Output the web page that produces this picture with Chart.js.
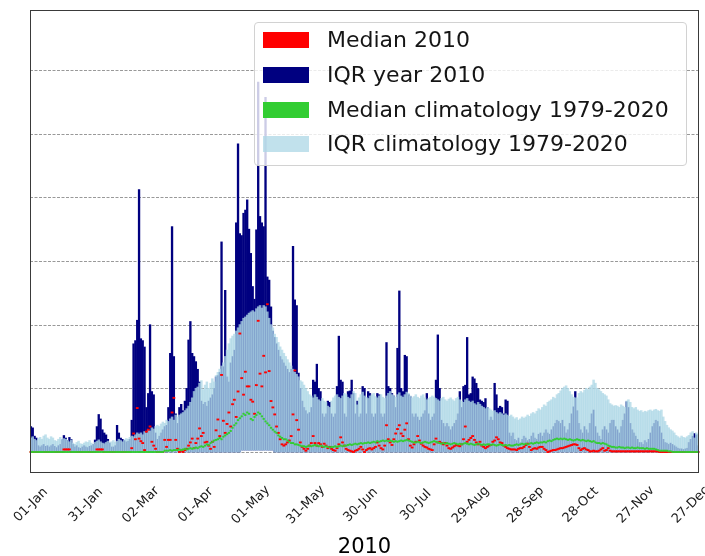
<!DOCTYPE html>
<html>
<head>
<meta charset="utf-8">
<script src="https://cdn.jsdelivr.net/npm/chart.js@4.4.1/dist/chart.umd.min.js"></script>
<style>
  html, body { margin: 0; padding: 0; background: #fff; }
  #wrap { position: relative; width: 705px; height: 556px; overflow: hidden; font-family: "DejaVu Sans", sans-serif; }
  #chart { position: absolute; left: 0; top: 0; }
  .legend-box { position: absolute; left: 254px; top: 22px; width: 433px; height: 144px; box-sizing: border-box;
    background: rgba(255,255,255,0.8); border: 1px solid #d2d2d2; border-radius: 4px; }
  .swatch { position: absolute; left: 263px; width: 46px; height: 16px; }
  .label { position: absolute; left: 327px; font-size: 22px; line-height: 22px; color: #151515; white-space: nowrap; }
</style>
</head>
<body>
<div id="wrap">
  <canvas id="chart" width="705" height="556"></canvas>
</div>
<script>
// Daily values for 2010, one entry per day of year (01-Jan = index 0).
// Units follow the y grid (one dashed line per unit).

const TICK_DAYS = [0, 30, 60, 90, 120, 150, 180, 210, 240, 270, 300, 330, 360];
const TICK_LABELS = ["01-Jan", "31-Jan", "02-Mar", "01-Apr", "01-May", "31-May",
  "30-Jun", "30-Jul", "29-Aug", "28-Sep", "28-Oct", "27-Nov", "27-Dec"];
const X_TITLE = "2010";
const GRID_VALUES = [0, 1, 2, 3, 4, 5, 6];
const Y_MIN = -0.33;
const Y_MAX = 6.94;

const LEGEND_LABELS = ["Median 2010", "IQR year 2010", "Median climatology 1979-2020", "IQR climatology 1979-2020"];

// upper quartile, year 2010
const IQR2010_HIGH = [
  0.4,0.38,0.25,0.22,0.1,0.08,0.1,0.12,0.09,0.1,
  0.08,0.1,0.12,0.09,0.07,0.1,0.12,0.19,0.26,0.22,
  0.18,0.23,0.2,0.12,0.08,0.1,0.07,0.06,0.08,0.1,
  0.08,0.07,0.09,0.1,0.12,0.19,0.4,0.59,0.52,0.35,
  0.3,0.27,0.2,0.14,0.08,0.08,0.1,0.42,0.3,0.22,
  0.2,0.18,0.16,0.17,0.2,0.5,1.7,1.75,2.07,4.12,
  1.78,1.75,1.65,0.7,0.92,2.0,0.95,0.9,0.3,0.2,
  0.25,0.3,0.35,0.4,0.42,0.7,1.55,3.54,1.5,0.6,
  0.45,0.7,0.75,0.65,0.8,1.0,1.76,2.05,1.55,1.5,
  1.42,1.3,1.1,0.8,0.75,0.78,0.72,0.8,0.85,0.9,
  1.0,1.18,1.2,1.25,3.3,1.34,2.54,1.18,1.1,1.4,
  1.5,1.6,3.6,4.84,3.43,3.4,3.75,3.8,3.96,3.5,
  3.12,2.6,2.4,3.49,5.81,3.7,3.6,3.54,5.57,2.75,
  2.7,2.28,1.9,1.8,1.7,1.6,1.5,1.45,1.4,1.35,
  1.3,1.25,1.3,3.23,2.39,2.3,1.24,1.0,0.8,0.7,
  0.65,0.6,0.62,0.7,1.13,1.1,1.38,1.0,0.95,0.6,
  0.55,0.6,0.8,0.78,0.6,0.55,0.6,1.03,1.82,1.13,
  1.1,0.6,0.55,0.95,0.96,1.13,0.92,0.6,0.8,0.55,
  0.6,1.03,1.0,0.6,0.95,0.92,0.6,0.55,0.6,0.92,
  0.9,0.6,0.55,0.6,1.72,1.03,1.0,0.92,0.88,0.7,
  1.63,2.53,1.0,0.95,1.52,1.5,0.9,0.87,0.6,0.55,
  0.6,0.55,0.5,0.55,0.6,0.65,0.92,0.6,0.5,0.55,
  0.6,1.13,1.84,1.0,0.5,0.45,0.4,0.45,0.4,0.35,
  0.4,0.45,0.5,0.6,0.95,0.7,1.03,1.05,1.8,0.9,
  0.92,1.18,1.15,1.08,1.0,0.82,0.8,0.78,0.84,0.7,
  0.5,0.55,0.5,1.08,0.9,0.69,0.72,0.7,0.6,0.82,
  0.8,0.3,0.25,0.3,0.2,0.18,0.22,0.15,0.2,0.25,
  0.22,0.18,0.2,0.25,0.3,0.22,0.2,0.28,0.3,0.25,
  0.3,0.35,0.3,0.28,0.35,0.4,0.45,0.5,0.48,0.45,
  0.5,0.4,0.3,0.35,0.45,0.6,0.71,0.95,0.65,0.45,
  0.35,0.3,0.4,0.35,0.3,0.45,0.6,0.66,0.4,0.3,
  0.25,0.2,0.35,0.4,0.35,0.3,0.45,0.5,0.5,0.4,
  0.35,0.3,0.4,0.5,0.6,0.79,0.7,0.45,0.35,0.3,
  0.25,0.2,0.15,0.15,0.12,0.18,0.15,0.2,0.3,0.4,
  0.45,0.5,0.48,0.4,0.3,0.2,0.15,0.14,0.12,0.14,
  0.12,0.1,0.08,0.06,0.05,0.05,0.04,0.05,0.06,0.15,
  0.2,0.25,0.29,0.27,0.1,
];

// lower quartile, year 2010
const IQR2010_LOW = [
  0,0,0,0,0,0,0,0,0,0, 0,0,0,0,0,0,0,0,0,0, 0,0,0,0,0,0,0,0,0,0,
  0,0,0,0,0,0,0,0,0,0, 0,0,0,0,0,0,0,0,0,0, 0,0,0,0,0,0,0,0,0,0,
  0,0,0,0,0,0,0,0,0,0, 0,0,0,0,0,0,0,0,0,0, 0,0,0,0,0,0,0,0,0,0,
  0,0,0,0,0,0,0,0,0,0, 0,0,0,0,0,0,0,0,0,0,
  0,0,0,0,0,0.03,0.03,0.03,0.03,0.03,
  0.03,0.03,0.03,0.03,0.03,0.03,0.03,0.03,0.03,0.03,
  0.03,0.03,0.03,0,0,0,0,0,0,0,
  0,0,0,0,0,0,0,0,0,0, 0,0,0,0,0,0,0,0,0,0, 0,0,0,0,0,0,0,0,0,0,
  0,0,0,0,0,0,0,0,0,0, 0,0,0,0,0,0,0,0,0,0, 0,0,0,0,0,0,0,0,0,0,
  0,0,0,0,0,0,0,0,0,0, 0,0,0,0,0,0,0,0,0,0, 0,0,0,0,0,0,0,0,0,0,
  0,0,0,0,0,0,0,0,0,0, 0,0,0,0,0,0,0,0,0,0, 0,0,0,0,0,0,0,0,0,0,
  0,0,0,0,0,0,0,0,0,0, 0,0,0,0,0,0,0,0,0,0, 0,0,0,0,0,0,0,0,0,0,
  0,0,0,0,0,0,0,0,0,0, 0,0,0,0,0,0,0,0,0,0, 0,0,0,0,0,0,0,0,0,0,
  0,0,0,0,0,0,0,0,0,0, 0,0,0,0,0,0,0,0,0,0, 0,0,0,0,0,0,0,0,0,0,
  0,0,0,0,0,0,0,0,0,0, 0,0,0,0,0,
];

// upper quartile, climatology 1979-2020
const IQRCLIM_HIGH = [
  0.22,0.24,0.2,0.18,0.21,0.23,0.2,0.25,0.27,0.22,
  0.2,0.24,0.22,0.18,0.17,0.2,0.23,0.19,0.21,0.2,
  0.18,0.16,0.19,0.14,0.12,0.15,0.17,0.13,0.12,0.14,
  0.16,0.15,0.18,0.14,0.12,0.15,0.17,0.19,0.16,0.14,
  0.13,0.15,0.17,0.14,0.16,0.18,0.15,0.17,0.2,0.18,
  0.16,0.19,0.21,0.2,0.23,0.25,0.24,0.27,0.3,0.28,
  0.3,0.27,0.32,0.3,0.35,0.33,0.38,0.36,0.4,0.42,
  0.4,0.44,0.47,0.45,0.5,0.48,0.52,0.55,0.5,0.58,
  0.55,0.58,0.6,0.62,0.65,0.68,0.72,0.78,0.85,0.95,
  1.0,1.02,1.08,1.12,0.98,1.05,1.1,1.0,1.08,1.15,
  1.1,1.2,1.25,1.3,1.35,1.4,1.5,1.6,1.7,1.78,
  1.82,1.85,1.9,1.95,2.0,2.05,2.1,2.12,2.15,2.18,
  2.2,2.22,2.2,2.25,2.28,2.3,2.26,2.3,2.28,2.2,
  2.1,2.0,1.95,1.85,1.8,1.72,1.65,1.6,1.55,1.5,
  1.45,1.4,1.35,1.3,1.25,1.22,1.18,1.12,1.1,1.05,
  1.0,0.95,0.9,0.88,0.85,0.9,0.86,0.82,0.8,0.84,
  0.8,0.78,0.72,0.7,0.8,0.85,0.88,0.9,0.86,0.84,
  0.88,0.92,0.9,0.86,0.84,0.9,0.95,0.92,0.74,0.85,
  0.9,0.94,0.88,0.86,0.84,0.88,0.9,0.92,0.87,0.85,
  0.88,0.9,0.86,0.84,0.88,0.92,0.95,0.9,0.88,0.86,
  0.9,0.93,0.88,0.86,0.9,0.94,0.92,0.88,0.85,0.87,
  0.9,0.86,0.84,0.88,0.9,0.85,0.82,0.84,0.86,0.88,
  0.86,0.84,0.82,0.8,0.84,0.86,0.82,0.8,0.83,0.85,
  0.82,0.8,0.84,0.86,0.82,0.8,0.78,0.82,0.84,0.8,
  0.78,0.8,0.76,0.74,0.78,0.75,0.72,0.7,0.68,0.7,
  0.68,0.66,0.64,0.65,0.62,0.6,0.62,0.6,0.58,0.6,
  0.58,0.56,0.58,0.55,0.52,0.54,0.5,0.52,0.55,0.53,
  0.55,0.58,0.56,0.6,0.62,0.6,0.64,0.68,0.66,0.7,
  0.74,0.72,0.78,0.8,0.82,0.86,0.84,0.9,0.92,0.96,
  1.0,1.02,1.04,1.0,0.95,0.9,0.86,0.85,0.85,0.92,
  0.95,0.93,0.97,1.0,0.98,1.02,1.05,1.13,1.08,1.0,
  0.98,0.95,0.92,0.9,0.88,0.82,0.76,0.74,0.72,0.73,
  0.72,0.7,0.74,0.72,0.7,0.8,0.82,0.78,0.7,0.68,
  0.7,0.66,0.64,0.65,0.62,0.64,0.63,0.65,0.66,0.64,
  0.66,0.67,0.65,0.64,0.66,0.55,0.48,0.42,0.38,0.35,
  0.33,0.3,0.26,0.24,0.22,0.25,0.23,0.22,0.24,0.26,
  0.3,0.32,0.22,0.3,0.28,
];

// lower quartile, climatology 1979-2020
const IQRCLIM_LOW = IQR2010_LOW.slice();

// median, year 2010
const MEDIAN_2010 = [
  0,0,0,0,0,0,0,0,0,0,
  0,0,0,0,0,0,0,0,0.04,0.04,
  0.04,0.04,0,0,0,0,0,0,0,0,
  0,0,0,0,0,0,0.04,0.04,0.04,0.04,
  0,0,0,0,0,0,0,0,0,0,
  0,0,0,0,0,0.06,0.29,0.2,0.69,0.21,
  0.17,0.14,0.03,0.32,0.35,0.4,0.16,0.1,0.05,0,
  0,0,0,0.19,0.08,0.19,0.19,0.62,0.85,0.19,
  0.05,0,0.02,0,0.03,0.05,0.1,0.15,0.21,0.06,
  0.14,0.21,0.37,0.25,0.3,0.15,0.16,0.1,0.05,0.16,
  0.08,0.34,0.51,0.25,1.21,0.49,0.3,0.44,0.62,0.4,
  0.75,0.82,0.55,0.95,1.86,1.16,0.9,1.26,1.03,1.03,
  0.82,0.79,0.6,1.05,2.06,1.23,1.03,1.51,1.25,2.32,
  1.27,0.8,0.7,0.59,0.4,0.3,0.2,0.12,0.1,0.12,
  0.15,0.18,0.25,0.59,1.28,0.5,0.35,0.15,0.08,0.05,
  0.02,0.05,0.1,0.14,0.25,0.14,0.1,0.14,0.12,0.08,
  0.13,0.1,0.06,0.08,0.05,0.03,0.02,0.06,0.12,0.23,
  0.15,0.1,0.05,0.03,0.02,0.01,0,0.02,0.03,0.05,
  0.08,0.04,0,0.03,0.05,0.06,0.04,0.06,0.08,0.15,
  0.1,0.06,0.04,0.1,0.42,0.2,0.15,0.11,0.2,0.29,
  0.36,0.42,0.29,0.25,0.35,0.45,0.2,0.1,0.07,0.12,
  0.16,0.25,0.18,0.13,0.1,0.08,0.07,0.05,0.04,0.03,
  0.12,0.21,0.15,0.16,0.14,0.12,0.14,0.1,0.06,0.05,
  0.07,0.09,0.11,0.1,0.09,0.12,0.2,0.4,0.16,0.19,
  0.22,0.25,0.19,0.15,0.12,0.16,0.1,0.08,0.06,0.08,
  0.1,0.11,0.16,0.18,0.23,0.2,0.15,0.14,0.1,0.08,
  0.06,0.05,0.04,0.04,0.04,0.03,0.05,0.06,0.06,0.08,
  0.11,0.13,0.08,0.03,0.05,0.06,0.05,0.07,0.08,0.08,
  0.05,0.03,0,0.01,0.02,0.03,0.03,0.04,0.05,0.06,
  0.06,0.07,0.08,0.09,0.1,0.11,0.12,0.12,0.11,0.06,
  0.03,0.05,0.06,0.04,0.03,0.01,0.01,0.02,0.01,0.01,
  0.02,0.04,0.06,0.02,0.03,0.06,0.02,0.01,0.01,0.01,
  0.01,0.01,0.01,0.01,0.01,0.01,0.01,0.01,0.01,0.01,
  0.01,0.01,0.01,0.01,0.01,0.01,0.01,0.01,0.01,0.01,
  0.01,0.01,0.01,0,0,0,0,0,0,0,
  0,0,0,0,0,0,0,0,0,0,
  0,0,0,0,0,
];

// median, climatology 1979-2020
const MEDIAN_CLIM = [
  0,0,0,0,0,0,0,0,0,0, 0,0,0,0,0,0,0,0,0,0, 0,0,0,0,0,0,0,0,0,0,
  0,0,0,0,0,0,0,0,0,0, 0,0,0,0,0,0,0,0,0,0, 0,0,0,0,0,0,0,0,0,0,
  0,0,0,0,0,0,0,0,0,0,
  0,0,0,0.02,0.02,0.02,0.03,0.02,0.03,0.03,
  0.03,0.04,0.03,0.04,0.05,0.04,0.05,0.06,0.05,0.06,
  0.07,0.06,0.08,0.09,0.08,0.1,0.12,0.11,0.14,0.16,
  0.18,0.19,0.2,0.22,0.2,0.24,0.26,0.28,0.3,0.33,
  0.38,0.42,0.45,0.5,0.53,0.56,0.6,0.58,0.62,0.6,
  0.52,0.5,0.55,0.58,0.62,0.6,0.56,0.52,0.48,0.45,
  0.42,0.38,0.35,0.32,0.3,0.26,0.24,0.22,0.2,0.2,
  0.18,0.16,0.14,0.14,0.12,0.12,0.11,0.1,0.09,0.09,
  0.08,0.09,0.1,0.09,0.1,0.11,0.1,0.09,0.1,0.09,
  0.08,0.09,0.08,0.07,0.08,0.08,0.09,0.08,0.09,0.1,
  0.09,0.1,0.1,0.11,0.12,0.11,0.12,0.13,0.12,0.13,
  0.14,0.13,0.14,0.14,0.15,0.14,0.15,0.16,0.15,0.17,
  0.16,0.17,0.18,0.17,0.18,0.17,0.18,0.17,0.16,0.17,
  0.16,0.17,0.18,0.17,0.18,0.19,0.18,0.17,0.16,0.15,
  0.15,0.16,0.15,0.14,0.15,0.16,0.15,0.14,0.15,0.16,
  0.17,0.16,0.15,0.14,0.13,0.14,0.13,0.14,0.13,0.12,
  0.13,0.14,0.13,0.12,0.13,0.12,0.13,0.14,0.13,0.12,
  0.13,0.12,0.11,0.12,0.13,0.12,0.11,0.12,0.11,0.12,
  0.12,0.11,0.12,0.11,0.1,0.11,0.12,0.11,0.1,0.11,
  0.1,0.11,0.1,0.1,0.11,0.12,0.11,0.12,0.13,0.12,
  0.13,0.12,0.13,0.14,0.13,0.14,0.15,0.14,0.15,0.15,
  0.16,0.15,0.17,0.18,0.17,0.19,0.2,0.21,0.2,0.21,
  0.2,0.21,0.2,0.19,0.2,0.19,0.18,0.19,0.2,0.19,
  0.18,0.19,0.18,0.17,0.18,0.17,0.16,0.17,0.15,0.14,
  0.14,0.13,0.14,0.13,0.12,0.1,0.09,0.08,0.08,0.07,
  0.07,0.08,0.07,0.07,0.06,0.07,0.07,0.06,0.07,0.06,
  0.06,0.07,0.06,0.06,0.06,0.05,0.06,0.05,0.05,0.05,
  0.05,0.04,0.03,0.02,0.02,0.02,0.02,0.02,0.01,0.01,
  0,0,0,0,0,0,0,0,0,0,
  0,0,0,0,0,
];

const DAYS = Array.from({ length: 365 }, (_, i) => i);

const NAVY = "#000080";
const LIGHTBLUE = "rgba(173,216,230,0.76)";
const RED = "#ff0000";
const GREEN = "#32cd32";
const LEGEND_COLORS = [RED, NAVY, GREEN, LIGHTBLUE];
const LEGEND_BASELINES = [48, 83, 118, 152];

for (const [name, arr] of Object.entries({ IQR2010_HIGH, IQR2010_LOW, IQRCLIM_HIGH, MEDIAN_2010, MEDIAN_CLIM })) {
  if (arr.length !== DAYS.length) throw new Error(name + " has " + arr.length + " values");
}

/** Dashed grid behind the bars, frame, rotated date labels and the x title on top. */
const framePlugin = {
  id: "frame",
  beforeDatasetsDraw(chart) {
    const { ctx, chartArea: a, scales: { y } } = chart;
    ctx.save();
    ctx.strokeStyle = "rgba(0,0,0,0.5)";
    ctx.lineWidth = 0.8;
    ctx.setLineDash([3, 1.5]);
    for (const v of GRID_VALUES) {
      const py = Math.round(y.getPixelForValue(v)) + 0.5;
      ctx.beginPath();
      ctx.moveTo(a.left, py);
      ctx.lineTo(a.right, py);
      ctx.stroke();
    }
    ctx.restore();
  },
  afterDraw(chart) {
    const { ctx, chartArea: a, scales: { x } } = chart;
    ctx.save();
    ctx.strokeStyle = "#3a3a3a";
    ctx.lineWidth = 1;
    ctx.strokeRect(a.left + 0.5, a.top + 0.5, a.right - a.left - 1, a.bottom - a.top - 1);

    ctx.fillStyle = "#1a1a1a";
    ctx.font = '13px "DejaVu Sans"';
    ctx.textAlign = "center";
    ctx.textBaseline = "middle";
    TICK_DAYS.forEach((d, i) => {
      ctx.save();
      ctx.translate(x.getPixelForValue(d), a.bottom + 32);
      ctx.rotate(-Math.PI / 4);
      ctx.fillText(TICK_LABELS[i], 0, 0);
      ctx.restore();
    });

    ctx.font = '21px "DejaVu Sans"';
    ctx.textBaseline = "alphabetic";
    ctx.fillStyle = "#000";
    ctx.fillText(X_TITLE, (a.left + a.right) / 2, 553);
    ctx.restore();
  },
};

const datasets = [
  {
    type: "line",
    label: LEGEND_LABELS[2],
    data: MEDIAN_CLIM,
    showLine: false,
    pointStyle: "line",
    pointRadius: 1.1,
    pointBorderWidth: 1.9,
    pointBorderColor: GREEN,
    pointBackgroundColor: GREEN,
    order: 0,
  },
  {
    type: "line",
    label: LEGEND_LABELS[0],
    data: MEDIAN_2010,
    showLine: false,
    pointStyle: "line",
    pointRadius: 1.4,
    pointBorderWidth: 1.9,
    pointBorderColor: RED,
    pointBackgroundColor: RED,
    order: 1,
  },
  {
    label: LEGEND_LABELS[3],
    data: IQRCLIM_LOW.map((lo, i) => [lo, IQRCLIM_HIGH[i]]),
    backgroundColor: LIGHTBLUE,
    grouped: false,
    barPercentage: 1,
    categoryPercentage: 1,
    inflateAmount: 0.35,
    order: 2,
  },
  {
    label: LEGEND_LABELS[1],
    data: IQR2010_LOW.map((lo, i) => [lo, IQR2010_HIGH[i]]),
    backgroundColor: NAVY,
    grouped: false,
    barPercentage: 1,
    categoryPercentage: 1,
    inflateAmount: 0.25,
    order: 3,
  },
];

new Chart(document.getElementById("chart"), {
  type: "bar",
  data: { labels: DAYS, datasets },
  options: {
    responsive: false,
    animation: false,
    devicePixelRatio: 1,
    layout: { padding: { left: 30, right: 6, top: 10, bottom: 83 } },
    scales: {
      x: { type: "category", display: false, offset: true },
      y: { display: false, min: Y_MIN, max: Y_MAX },
    },
    plugins: { legend: { display: false }, tooltip: { enabled: false } },
  },
  plugins: [framePlugin],
});

// legend box, drawn as HTML over the plot like the matplotlib legend
const wrap = document.getElementById("wrap");
const box = document.createElement("div");
box.className = "legend-box";
wrap.appendChild(box);
LEGEND_LABELS.forEach((text, i) => {
  const sw = document.createElement("div");
  sw.className = "swatch";
  sw.style.top = LEGEND_BASELINES[i] - 16 + "px";
  sw.style.background = LEGEND_COLORS[i];
  wrap.appendChild(sw);
  const lab = document.createElement("div");
  lab.className = "label";
  lab.style.top = LEGEND_BASELINES[i] - 18.6 + "px";
  lab.textContent = text;
  wrap.appendChild(lab);
});
</script>
</body>
</html>
